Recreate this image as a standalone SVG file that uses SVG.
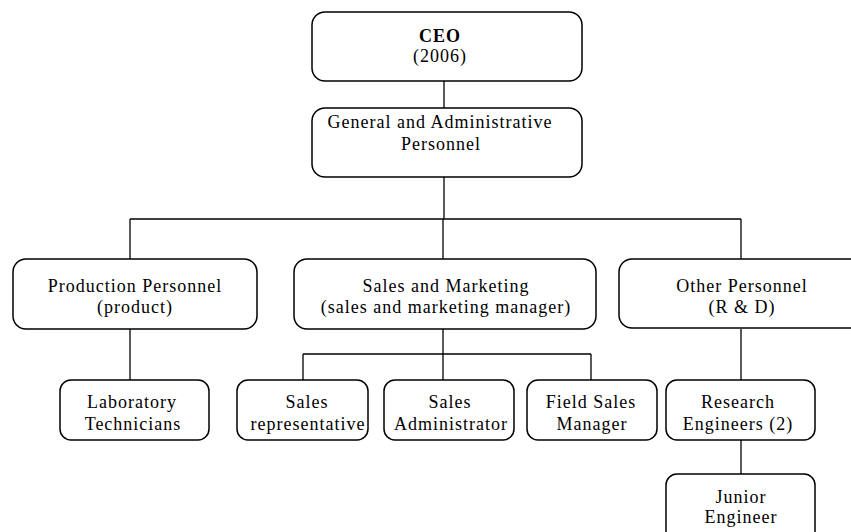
<svg xmlns="http://www.w3.org/2000/svg" width="851" height="532" viewBox="0 0 851 532">
  <style>
    .box { fill: #ffffff; stroke: #000000; stroke-width: 1.5; }
    .conn { fill: none; stroke: #000000; stroke-width: 1.3; }
    text { font-family: "Liberation Serif", "Times New Roman", serif; font-size: 18px; letter-spacing: 1px; fill: #000000; text-anchor: middle; }
    .bold { font-weight: bold; }
  </style>
  <rect width="851" height="532" fill="#ffffff"/>

  <!-- connectors -->
  <g id="connectors">
    <line class="conn" x1="444" y1="81" x2="444" y2="108"/>
    <line class="conn" x1="444" y1="177" x2="444" y2="219"/>
    <line class="conn" x1="130" y1="219" x2="741" y2="219"/>
    <line class="conn" x1="130" y1="219" x2="130" y2="259"/>
    <line class="conn" x1="443" y1="219" x2="443" y2="259"/>
    <line class="conn" x1="741" y1="219" x2="741" y2="259"/>
    <line class="conn" x1="130" y1="329" x2="130" y2="380"/>
    <line class="conn" x1="443" y1="329" x2="443" y2="380"/>
    <line class="conn" x1="303" y1="354" x2="591" y2="354"/>
    <line class="conn" x1="303" y1="354" x2="303" y2="380"/>
    <line class="conn" x1="591" y1="354" x2="591" y2="380"/>
    <line class="conn" x1="741" y1="329" x2="741" y2="380"/>
    <line class="conn" x1="741" y1="440" x2="741" y2="474"/>
  </g>

  <g id="ceo">
    <rect class="box" x="312" y="12" width="270" height="69" rx="13"/>
    <text class="bold" x="440" y="42">CEO</text>
    <text x="440" y="62">(2006)</text>
  </g>

  <g id="general-admin">
    <rect class="box" x="312" y="108" width="270" height="69" rx="13"/>
    <text x="440" y="128">General and Administrative</text>
    <text x="441" y="150">Personnel</text>
  </g>

  <g id="production">
    <rect class="box" x="13" y="259" width="244" height="70" rx="13"/>
    <text x="135" y="292">Production Personnel</text>
    <text x="135" y="313">(product)</text>
  </g>

  <g id="sales-marketing">
    <rect class="box" x="294" y="259" width="302" height="70" rx="13"/>
    <text x="446" y="292">Sales and Marketing</text>
    <text x="446" y="313">(sales and marketing manager)</text>
  </g>

  <g id="other-personnel">
    <rect class="box" x="619" y="259" width="245" height="69" rx="13"/>
    <text x="742" y="292">Other Personnel</text>
    <text x="742" y="313">(R &amp; D)</text>
  </g>

  <g id="lab-technicians">
    <rect class="box" x="60" y="380" width="149" height="60" rx="11"/>
    <text x="132" y="408">Laboratory</text>
    <text x="133" y="430">Technicians</text>
  </g>

  <g id="sales-representative">
    <rect class="box" x="237" y="380" width="131" height="60" rx="11"/>
    <text x="307" y="408">Sales</text>
    <text x="308" y="430">representative</text>
  </g>

  <g id="sales-administrator">
    <rect class="box" x="384" y="380" width="130" height="60" rx="11"/>
    <text x="450" y="408">Sales</text>
    <text x="451" y="430">Administrator</text>
  </g>

  <g id="field-sales-manager">
    <rect class="box" x="527" y="380" width="130" height="60" rx="11"/>
    <text x="591" y="408">Field Sales</text>
    <text x="592" y="430">Manager</text>
  </g>

  <g id="research-engineers">
    <rect class="box" x="666" y="380" width="149" height="60" rx="11"/>
    <text x="738" y="408">Research</text>
    <text x="738" y="430">Engineers (2)</text>
  </g>

  <g id="junior-engineer">
    <rect class="box" x="666" y="474" width="149" height="72" rx="11"/>
    <text x="741" y="503">Junior</text>
    <text x="741" y="523">Engineer</text>
  </g>
</svg>
